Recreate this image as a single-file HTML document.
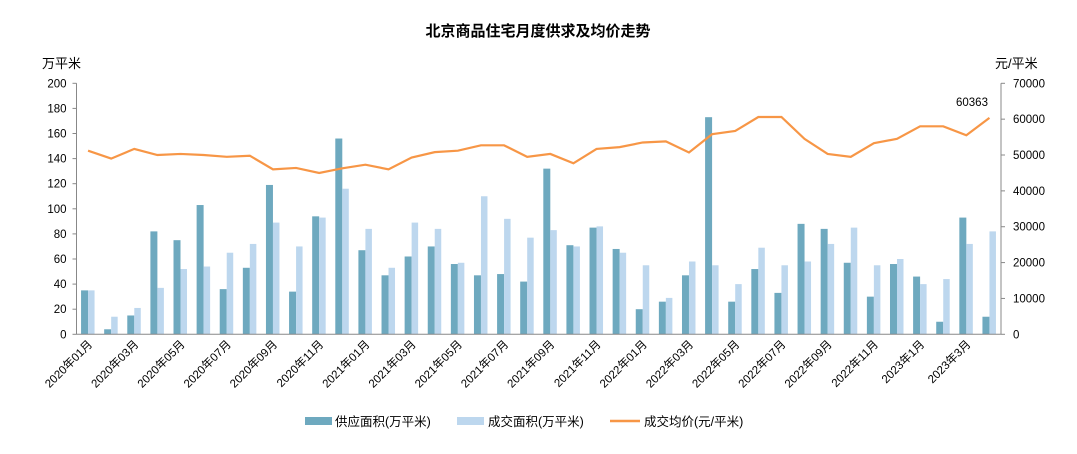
<!DOCTYPE html>
<html><head><meta charset="utf-8"><style>
body{margin:0;background:#fff;width:1077px;height:449px;overflow:hidden}
text{font-family:"Liberation Sans","Noto Sans CJK SC",sans-serif;fill:#000}
</style></head><body>
<svg id="s" width="1077" height="449" xmlns="http://www.w3.org/2000/svg">
<text x="538" y="36" text-anchor="middle" font-size="15" font-weight="bold">北京商品住宅月度供求及均价走势</text>
<text x="42" y="68" font-size="13">万平米</text>
<text x="995" y="68" font-size="13">元/平米</text>
<g id="g"></g>
<rect x="305" y="417" width="27" height="8" fill="#6ea9bf"/>
<text x="335" y="426" font-size="12.5">供应面积(万平米)</text>
<rect x="457" y="417" width="27" height="8" fill="#bdd7ee"/>
<text x="488" y="426" font-size="12.5">成交面积(万平米)</text>
<line x1="610" y1="421" x2="640" y2="421" stroke="#f79646" stroke-width="2.5"/>
<text x="644" y="426" font-size="12.5">成交均价(元/平米)</text>
</svg>
<script>
var sup=[35,4,15,82,75,103,36,53,119,34,94,156,67,47,62,70,56,47,48,42,132,71,85,68,20,26,47,173,26,52,33,88,84,57,30,56,46,10,93,14];
var ar=[35,14,21,37,52,54,65,72,89,70,93,116,84,53,89,84,57,110,92,77,83,70,86,65,55,29,58,55,40,69,55,58,72,85,55,60,40,44,72,82];
var pr=[51.2,49,51.7,50,50.3,50,49.5,49.8,46,46.4,45,46.3,47.3,46,49.3,50.8,51.2,52.7,52.7,49.5,50.3,47.7,51.7,52.2,53.5,53.8,50.7,55.8,56.7,60.6,60.6,54.5,50.3,49.5,53.3,54.5,58,58,55.5,60.363];
var L=76.5,R=1001,Y0=334.3,Y1=83.3,W=(R-L)/40,h='';
function yl(v){return Y0-(Y0-Y1)*v/200}
function yr(v){return Y0-(Y0-Y1)*v/70}
for(var i=0;i<=10;i++){var y=yl(i*20);h+='<line x1="'+(L-4)+'" y1="'+y+'" x2="'+L+'" y2="'+y+'" stroke="#888"/><text x="'+(L-10)+'" y="'+(y+4)+'" font-size="11.5" text-anchor="end">'+i*20+'</text>';}
for(var i=0;i<=7;i++){var y=yr(i*10);h+='<line x1="'+R+'" y1="'+y+'" x2="'+(R+4)+'" y2="'+y+'" stroke="#888"/><text x="'+(R+12)+'" y="'+(y+4)+'" font-size="11.5">'+(i*10000)+'</text>';}
h+='<line x1="'+L+'" y1="'+Y1+'" x2="'+L+'" y2="'+Y0+'" stroke="#888"/><line x1="'+R+'" y1="'+Y1+'" x2="'+R+'" y2="'+Y0+'" stroke="#888"/>';
var p='';
for(var i=0;i<40;i++){var c=L+W*(i+0.5);
h+='<rect x="'+(c-7)+'" y="'+yl(sup[i])+'" width="7" height="'+(Y0-yl(sup[i]))+'" fill="#6ea9bf"/>';
h+='<rect x="'+c+'" y="'+yl(ar[i])+'" width="6.5" height="'+(Y0-yl(ar[i]))+'" fill="#bdd7ee"/>';
p+=(i?'L':'M')+c+' '+yr(pr[i]);
if(i%2==0){var m=i%12+1,yy=2020+Math.floor(i/12);var lab=yy>=2023?yy+'年'+m+'月':yy+'年'+(m<10?'0':'')+m+'月';
h+='<text transform="translate('+(c+5)+',345) rotate(-45)" text-anchor="end" font-size="11.5">'+lab+'</text>';}}
h+='<line x1="'+L+'" y1="'+Y0+'" x2="'+R+'" y2="'+Y0+'" stroke="#888"/>';
h+='<path d="'+p+'" fill="none" stroke="#f79646" stroke-width="2.2"/>';
h+='<text x="956" y="106" font-size="11.5">60363</text>';
document.getElementById('g').innerHTML=h;
</script>
</body></html>
